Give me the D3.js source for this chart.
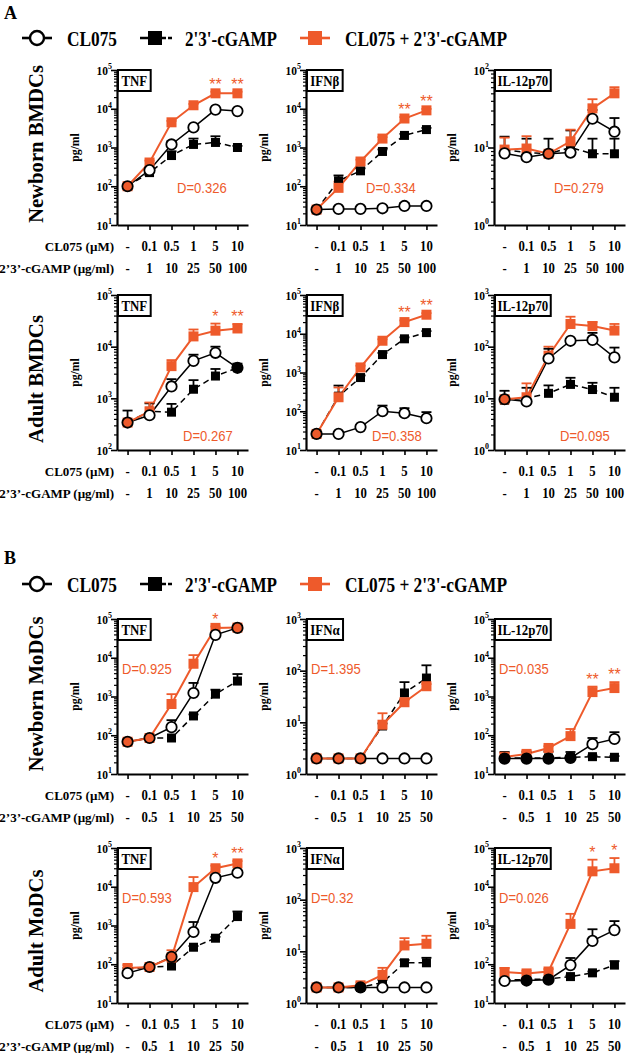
<!DOCTYPE html>
<html><head><meta charset="utf-8">
<script src="https://cdn.jsdelivr.net/npm/d3@7"></script>
<style>body{margin:0;background:#fff} svg{display:block}</style>
</head><body>
<svg id="c" width="627" height="1053"></svg>
<script>
// ---------- categories / labels ----------
const cl075Doses = ["-", "0.1", "0.5", "1", "5", "10"];
const cgampDosesBM = ["-", "1", "10", "25", "50", "100"];
const cgampDosesMo = ["-", "0.5", "1", "10", "25", "50"];
const seriesNames = ["CL075", "2'3'-cGAMP", "CL075 + 2'3'-cGAMP"];
const rowLabels = ["Newborn BMDCs", "Adult BMDCs", "Newborn MoDCs", "Adult MoDCs"];
const cytokineNames = [["TNF", "IFNβ", "IL-12p70"], ["TNF", "IFNβ", "IL-12p70"], ["TNF", "IFNα", "IL-12p70"], ["TNF", "IFNα", "IL-12p70"]];
const yDecadeRanges = [[[1, 5], [1, 5], [0, 2]], [[2, 5], [1, 5], [0, 3]], [[1, 5], [0, 3], [1, 5]], [[1, 5], [0, 3], [1, 5]]];
const dLabels = [["D=0.326", "D=0.334", "D=0.279"], ["D=0.267", "D=0.358", "D=0.095"], ["D=0.925", "D=1.395", "D=0.035"], ["D=0.593", "D=0.32", "D=0.026"]];

// ---------- Newborn BMDCs ----------
const nbBM_TNF_cl = [100, 260, 1200, 3300, 9500, 8700];
const nbBM_TNF_clErr = [10, 40, 250, 300, 1000, 800];
const nbBM_TNF_cg = [100, 225, 620, 1200, 1350, 1000];
const nbBM_TNF_cgErr = [10, 35, 180, 500, 600, 100];
const nbBM_TNF_co = [100, 410, 4470, 12300, 25000, 25000];
const nbBM_TNF_coErr = [10, 50, 400, 1000, 2500, 2500];
const nbBM_TNF_sig = ["", "", "", "", "**", "**"];

const nbBM_IFNb_cl = [25, 26, 26, 27, 31, 31];
const nbBM_IFNb_clErr = [2, 3, 3, 4, 6, 5];
const nbBM_IFNb_cg = [25, 138, 250, 790, 2050, 2900];
const nbBM_IFNb_cgErr = [3, 52, 40, 100, 200, 300];
const nbBM_IFNb_co = [25, 91, 435, 1700, 5600, 9100];
const nbBM_IFNb_coErr = [3, 40, 50, 150, 500, 800];
const nbBM_IFNb_sig = ["", "", "", "", "**", "**"];

const nbBM_IL12_cl = [8.4, 7.5, 8.3, 8.6, 23.5, 16];
const nbBM_IL12_clErr = [0.5, 0.5, 0.5, 0.5, 7, 8];
const nbBM_IL12_cg = [9.4, 8.6, 8.3, 10, 8.3, 8.3];
const nbBM_IL12_cgErr = [4.4, 4.4, 4.7, 6.6, 4.7, 4.7];
const nbBM_IL12_co = [9.4, 9.7, 8.3, 12, 32, 50];
const nbBM_IL12_coErr = [4, 4.3, 0.5, 5, 10, 10];
const nbBM_IL12_sig = ["", "", "", "", "", ""];

// ---------- Adult BMDCs ----------
const adBM_TNF_cl = [340, 470, 1700, 5300, 7600, 3900];
const adBM_TNF_clErr = [0, 50, 650, 1700, 2400, 400];
const adBM_TNF_cg = [340, 560, 540, 1500, 2700, 3900];
const adBM_TNF_cgErr = [240, 240, 240, 750, 1000, 800];
const adBM_TNF_co = [340, 560, 4200, 15800, 20400, 22500];
const adBM_TNF_coErr = [0, 270, 1300, 5700, 7600, 5000];
const adBM_TNF_sig = ["", "", "", "", "*", "**"];

const adBM_IFNb_cl = [26, 26, 39, 100, 89, 66];
const adBM_IFNb_clErr = [1, 2, 4, 40, 31, 29];
const adBM_IFNb_cg = [26, 245, 740, 2900, 7400, 10700];
const adBM_IFNb_cgErr = [1, 215, 100, 300, 700, 1000];
const adBM_IFNb_co = [26, 230, 1350, 6600, 20000, 31000];
const adBM_IFNb_coErr = [1, 180, 150, 600, 2000, 3000];
const adBM_IFNb_sig = ["", "", "", "", "**", "**"];

const adBM_IL12_cl = [9.6, 8.7, 59, 130, 135, 62];
const adBM_IL12_clErr = [0.5, 0.5, 32, 10, 50, 34];
const adBM_IL12_cg = [9.2, 10, 12.5, 18.6, 14.8, 10.5];
const adBM_IL12_cgErr = [4.8, 6, 5.3, 6.4, 5.2, 5.5];
const adBM_IL12_co = [9.6, 10.5, 67, 275, 250, 205];
const adBM_IL12_coErr = [0.5, 9, 33, 105, 50, 70];
const adBM_IL12_sig = ["", "", "", "", "", ""];

// ---------- Newborn MoDCs ----------
const nbMo_TNF_cl = [68, 85, 162, 1230, 39000, 59000];
const nbMo_TNF_clErr = [3, 3, 83, 1010, 3000, 3000];
const nbMo_TNF_cg = [68, 85, 85, 315, 1150, 2500];
const nbMo_TNF_cgErr = [12, 3, 3, 30, 350, 1300];
const nbMo_TNF_co = [68, 85, 640, 7000, 59000, 60000];
const nbMo_TNF_coErr = [3, 3, 510, 4700, 5000, 5000];
const nbMo_TNF_sig = ["", "", "", "", "*", ""];

const nbMo_IFNa_cl = [2, 2, 2, 2, 2, 2];
const nbMo_IFNa_clErr = [0, 0, 0, 0, 0, 0];
const nbMo_IFNa_cg = [2, 2, 2, 8.5, 37, 72];
const nbMo_IFNa_cgErr = [0, 0, 0, 1, 23, 55];
const nbMo_IFNa_co = [2, 2, 2, 9, 24.5, 50];
const nbMo_IFNa_coErr = [0, 0, 0, 6, 3, 5];
const nbMo_IFNa_sig = ["", "", "", "", "", ""];

const nbMo_IL12_cl = [25, 25, 25, 26, 59, 80];
const nbMo_IL12_clErr = [3, 3, 3, 3, 26, 40];
const nbMo_IL12_cg = [26, 26, 26, 27, 28, 27];
const nbMo_IL12_cgErr = [11, 11, 12, 10, 2, 2];
const nbMo_IL12_co = [27.5, 33, 47, 95, 1300, 1650];
const nbMo_IL12_coErr = [8, 6, 5, 50, 500, 700];
const nbMo_IL12_sig = ["", "", "", "", "**", "**"];

// ---------- Adult MoDCs ----------
const adMo_TNF_cl = [59, 85, 155, 680, 17000, 23000];
const adMo_TNF_clErr = [5, 3, 20, 550, 3000, 3000];
const adMo_TNF_cg = [75, 85, 90, 275, 470, 1700];
const adMo_TNF_cgErr = [5, 3, 5, 20, 40, 600];
const adMo_TNF_co = [80, 85, 150, 9800, 30000, 40000];
const adMo_TNF_coErr = [15, 3, 80, 8000, 5000, 6000];
const adMo_TNF_sig = ["", "", "", "", "*", "**"];

const adMo_IFNa_cl = [2, 2, 2, 2, 2, 2];
const adMo_IFNa_clErr = [0, 0, 0, 0, 0, 0];
const adMo_IFNa_cg = [2, 2, 2, 2.5, 6, 6];
const adMo_IFNa_cgErr = [0, 0, 0, 0.3, 0.8, 1.5];
const adMo_IFNa_co = [2, 2, 2.2, 3.5, 13, 14];
const adMo_IFNa_coErr = [0, 0, 0.3, 1.3, 5, 6];
const adMo_IFNa_sig = ["", "", "", "", "", ""];

const adMo_IL12_cl = [37, 38, 40, 95, 400, 760];
const adMo_IL12_clErr = [3, 3, 3, 50, 400, 540];
const adMo_IL12_cg = [40, 40, 42, 48, 60, 95];
const adMo_IL12_cgErr = [3, 3, 3, 3, 5, 25];
const adMo_IL12_co = [63, 58, 65, 1100, 25000, 30000];
const adMo_IL12_coErr = [17, 10, 10, 900, 25000, 25000];
const adMo_IL12_sig = ["", "", "", "", "*", "*"];

// ---------- table built from arrays ----------
const panelData = [
  [[nbBM_TNF_cl, nbBM_TNF_clErr, nbBM_TNF_cg, nbBM_TNF_cgErr, nbBM_TNF_co, nbBM_TNF_coErr, nbBM_TNF_sig],
   [nbBM_IFNb_cl, nbBM_IFNb_clErr, nbBM_IFNb_cg, nbBM_IFNb_cgErr, nbBM_IFNb_co, nbBM_IFNb_coErr, nbBM_IFNb_sig],
   [nbBM_IL12_cl, nbBM_IL12_clErr, nbBM_IL12_cg, nbBM_IL12_cgErr, nbBM_IL12_co, nbBM_IL12_coErr, nbBM_IL12_sig]],
  [[adBM_TNF_cl, adBM_TNF_clErr, adBM_TNF_cg, adBM_TNF_cgErr, adBM_TNF_co, adBM_TNF_coErr, adBM_TNF_sig],
   [adBM_IFNb_cl, adBM_IFNb_clErr, adBM_IFNb_cg, adBM_IFNb_cgErr, adBM_IFNb_co, adBM_IFNb_coErr, adBM_IFNb_sig],
   [adBM_IL12_cl, adBM_IL12_clErr, adBM_IL12_cg, adBM_IL12_cgErr, adBM_IL12_co, adBM_IL12_coErr, adBM_IL12_sig]],
  [[nbMo_TNF_cl, nbMo_TNF_clErr, nbMo_TNF_cg, nbMo_TNF_cgErr, nbMo_TNF_co, nbMo_TNF_coErr, nbMo_TNF_sig],
   [nbMo_IFNa_cl, nbMo_IFNa_clErr, nbMo_IFNa_cg, nbMo_IFNa_cgErr, nbMo_IFNa_co, nbMo_IFNa_coErr, nbMo_IFNa_sig],
   [nbMo_IL12_cl, nbMo_IL12_clErr, nbMo_IL12_cg, nbMo_IL12_cgErr, nbMo_IL12_co, nbMo_IL12_coErr, nbMo_IL12_sig]],
  [[adMo_TNF_cl, adMo_TNF_clErr, adMo_TNF_cg, adMo_TNF_cgErr, adMo_TNF_co, adMo_TNF_coErr, adMo_TNF_sig],
   [adMo_IFNa_cl, adMo_IFNa_clErr, adMo_IFNa_cg, adMo_IFNa_cgErr, adMo_IFNa_co, adMo_IFNa_coErr, adMo_IFNa_sig],
   [adMo_IL12_cl, adMo_IL12_clErr, adMo_IL12_cg, adMo_IL12_cgErr, adMo_IL12_co, adMo_IL12_coErr, adMo_IL12_sig]]
];

// ---------- styling / layout ----------
const ORANGE = "#ee5a2b";
const SERIF = "'Liberation Serif','Times New Roman',serif";
const SANS = "'Liberation Sans',Arial,sans-serif";
const colX = [117, 306, 494];
const rowTop = [70, 295, 619, 848];
const PW = 131, PH = 155;
const rowLabelCY = [144, 379, 694, 931];
const rowLabelLen = [158, 128, 155, 123];
const dOffset = [[60, 117], [66, 140], [5, 49], [5, 49]];

const svg = d3.select("#c");

// horizontally condense a text element (reference uses narrow glyphs)
function condense(sel, f) {
  const w = sel.node().getComputedTextLength();
  sel.attr("textLength", w * f).attr("lengthAdjust", "spacingAndGlyphs");
  return sel;
}

function legend(y) {
  const g = svg.append("g");
  g.append("line").attr("x1", 22).attr("x2", 52).attr("y1", y).attr("y2", y).attr("stroke", "#000").attr("stroke-width", 2.6);
  g.append("circle").attr("cx", 37).attr("cy", y).attr("r", 7).attr("fill", "#fff").attr("stroke", "#000").attr("stroke-width", 2.4);
  g.append("line").attr("x1", 140).attr("x2", 172).attr("y1", y).attr("y2", y).attr("stroke", "#000").attr("stroke-width", 2.6).attr("stroke-dasharray", "26,2,4");
  g.append("rect").attr("x", 148).attr("y", y - 7).attr("width", 14).attr("height", 14).attr("fill", "#000");
  g.append("line").attr("x1", 300).attr("x2", 330).attr("y1", y).attr("y2", y).attr("stroke", ORANGE).attr("stroke-width", 2.6);
  g.append("rect").attr("x", 308).attr("y", y - 7).attr("width", 14).attr("height", 14).attr("fill", ORANGE);
  const tx = [67, 185, 345], tl = [50, 92, 162];
  seriesNames.forEach((s, i) => {
    g.append("text").attr("x", tx[i]).attr("y", y + 8).attr("font-family", SERIF).attr("font-weight", "bold")
      .attr("font-size", 22).attr("textLength", tl[i]).attr("lengthAdjust", "spacingAndGlyphs").text(s);
  });
}

svg.append("text").attr("x", 4).attr("y", 19).attr("font-family", SERIF).attr("font-weight", "bold").attr("font-size", 18).text("A");
svg.append("text").attr("x", 4).attr("y", 564).attr("font-family", SERIF).attr("font-weight", "bold").attr("font-size", 18).text("B");
legend(38);
legend(584);

function near(a, b) { return Math.abs(Math.log10(a) - Math.log10(b)) < 0.03; }

rowLabels.forEach((lab, r) => {
  svg.append("text").attr("transform", `translate(43,${rowLabelCY[r]}) rotate(-90)`).attr("text-anchor", "middle")
    .attr("font-family", SERIF).attr("font-weight", "bold").attr("font-size", 22)
    .attr("textLength", rowLabelLen[r]).attr("lengthAdjust", "spacingAndGlyphs").text(lab);

  for (let c = 0; c < 3; c++) {
    const ax = colX[c], top = rowTop[r], bot = top + PH;
    const [d0, d1] = yDecadeRanges[r][c];
    const [cl, clE, cg, cgE, co, coE, sig] = panelData[r][c];
    const y = d3.scaleLog().domain([Math.pow(10, d0), Math.pow(10, d1)]).range([bot, top]);
    const x = d3.scalePoint().domain(d3.range(6)).range([ax, ax + PW]).padding(0.48);
    const g = svg.append("g");

    // axes
    const majors = d3.range(d0, d1 + 1).map(e => Math.pow(10, e));
    const minors = [];
    for (let e = d0; e < d1; e++) for (let m = 2; m <= 9; m++) minors.push(m * Math.pow(10, e));
    const yAx = g.append("g").attr("transform", `translate(${ax},0)`)
      .call(d3.axisLeft(y).tickValues(majors).tickSize(6).tickSizeOuter(0).tickFormat(""));
    yAx.select(".domain").attr("stroke-width", 2.2);
    yAx.selectAll(".tick line").attr("stroke-width", 1.6);
    const yMin = g.append("g").attr("transform", `translate(${ax},0)`)
      .call(d3.axisLeft(y).tickValues(minors).tickSize(3).tickFormat(""));
    yMin.select(".domain").remove();
    yMin.selectAll(".tick line").attr("stroke-width", 1.2);
    majors.forEach((v, i) => {
      const t = g.append("text").attr("x", ax - 5).attr("y", y(v) + 4.5).attr("text-anchor", "end")
        .attr("font-family", SERIF).attr("font-weight", "bold").attr("font-size", 13);
      t.append("tspan").text("10");
      t.append("tspan").attr("dy", -5.5).attr("font-size", 9).text(d0 + i);
      condense(t, 0.88);
    });
    const xAx = g.append("g").attr("transform", `translate(0,${bot})`)
      .call(d3.axisBottom(x).tickSize(5).tickSizeOuter(0).tickFormat(""));
    xAx.select(".domain").attr("stroke-width", 2.2);
    xAx.selectAll(".tick line").attr("stroke-width", 1.6);

    const cgDoses = r < 2 ? cgampDosesBM : cgampDosesMo;
    d3.range(6).forEach(i => {
      condense(g.append("text").attr("x", x(i)).attr("y", bot + 26).attr("text-anchor", "middle")
        .attr("font-family", SERIF).attr("font-weight", "bold").attr("font-size", 14.5).text(cl075Doses[i]), 0.88);
      condense(g.append("text").attr("x", x(i)).attr("y", bot + 48).attr("text-anchor", "middle")
        .attr("font-family", SERIF).attr("font-weight", "bold").attr("font-size", 14.5).text(cgDoses[i]), 0.88);
    });
    if (c === 0) {
      g.append("text").attr("x", ax - 3).attr("y", bot + 26).attr("text-anchor", "end")
        .attr("font-family", SERIF).attr("font-weight", "bold").attr("font-size", 13).text("CL075 (µM)");
      g.append("text").attr("x", ax - 3).attr("y", bot + 48).attr("text-anchor", "end")
        .attr("font-family", SERIF).attr("font-weight", "bold").attr("font-size", 13).text("2’3’-cGAMP (µg/ml)");
    }
    condense(g.append("text").attr("transform", `translate(${ax - 38},${(top + bot) / 2}) rotate(-90)`).attr("text-anchor", "middle")
      .attr("font-family", SERIF).attr("font-weight", "bold").attr("font-size", 13).text("pg/ml"), 0.9);

    // lines
    const line = d3.line().x((d, i) => x(i)).y(d => y(d));
    g.append("path").datum(cg).attr("d", line).attr("fill", "none").attr("stroke", "#000").attr("stroke-width", 1.5).attr("stroke-dasharray", "6,4");
    g.append("path").datum(cl).attr("d", line).attr("fill", "none").attr("stroke", "#000").attr("stroke-width", 1.5);
    g.append("path").datum(co).attr("d", line).attr("fill", "none").attr("stroke", ORANGE).attr("stroke-width", 2);

    function errBars(vals, errs, color) {
      vals.forEach((v, i) => {
        if (!errs[i]) return;
        const y0 = y(v), y1 = y(v + errs[i]);
        if (y0 - y1 < 1) return;
        g.append("line").attr("x1", x(i)).attr("x2", x(i)).attr("y1", y0).attr("y2", y1).attr("stroke", color).attr("stroke-width", 1.8);
        g.append("line").attr("x1", x(i) - 5).attr("x2", x(i) + 5).attr("y1", y1).attr("y2", y1).attr("stroke", color).attr("stroke-width", 1.8);
      });
    }
    errBars(cg, cgE, "#000");
    errBars(co, coE, ORANGE);
    errBars(cl, clE, "#000");

    // markers
    g.selectAll(null).data(cg).enter().append("rect")
      .attr("x", (d, i) => x(i) - 4.5).attr("y", d => y(d) - 4.5).attr("width", 9).attr("height", 9).attr("fill", "#000");
    g.selectAll(null).data(co).enter().append("rect")
      .attr("x", (d, i) => x(i) - 5).attr("y", d => y(d) - 5).attr("width", 10).attr("height", 10).attr("fill", ORANGE);
    g.selectAll(null).data(cl).enter().append("circle")
      .attr("cx", (d, i) => x(i)).attr("cy", d => y(d)).attr("r", 5.2)
      .attr("fill", (d, i) => near(d, co[i]) ? ORANGE : (near(d, cg[i]) ? "#000" : "#fff"))
      .attr("stroke", "#000").attr("stroke-width", 1.8);

    // significance
    sig.forEach((s, i) => {
      if (!s) return;
      g.append("text").attr("x", x(i)).attr("y", y(co[i] + coE[i]) - 2).attr("text-anchor", "middle")
        .attr("font-family", SANS).attr("font-size", 16).attr("fill", ORANGE).text(s);
    });

    // D value
    condense(g.append("text").attr("x", ax + dOffset[r][0]).attr("y", top + dOffset[r][1] + 5.5)
      .attr("font-family", SANS).attr("font-size", 15).attr("fill", ORANGE).text(dLabels[r][c]), 0.87);

    // title box
    const tt = g.append("text").attr("y", top + 15.5).attr("font-family", SERIF).attr("font-weight", "bold")
      .attr("font-size", 14).text(cytokineNames[r][c]);
    condense(tt, 0.92);
    const tw = tt.node().getComputedTextLength() * 0.92;
    g.append("rect").attr("x", ax + 1).attr("y", top).attr("width", tw + 9).attr("height", 21)
      .attr("fill", "#fff").attr("stroke", "#000").attr("stroke-width", 2);
    tt.attr("x", ax + 1 + (tw + 9) / 2).attr("text-anchor", "middle");
    tt.raise();
  }
});
</script>
</body></html>
